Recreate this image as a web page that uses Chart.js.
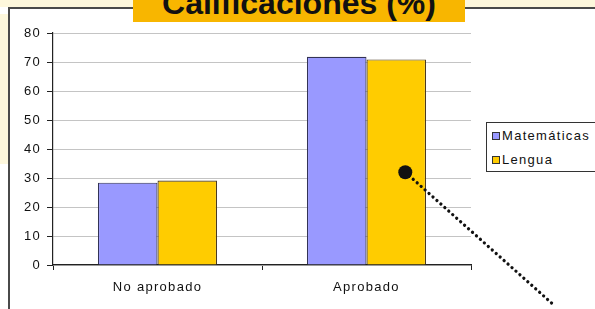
<!DOCTYPE html>
<html>
<head>
<meta charset="utf-8">
<script src="https://cdn.jsdelivr.net/npm/chart.js@4.4.1/dist/chart.umd.min.js"></script>
<style>
  html, body { margin:0; padding:0; width:595px; height:309px; overflow:hidden; background:#fff; }
  #wrap { position:relative; width:595px; height:309px; }
  #c { position:absolute; left:0; top:0; }
  .tint { position:absolute; background:#fdf7dc; }
  .bline { position:absolute; background:#4a4a4a; }
  #title { position:absolute; left:133px; top:0; width:332px; height:22px; background:#f8b600; overflow:hidden; }
  #title span { position:absolute; left:0; width:100%; top:-12.6px; text-align:center; font:bold 32px "Liberation Sans", Arial, sans-serif; line-height:32px; color:#111; }
  #legend { position:absolute; left:486px; top:122px; width:118px; height:50px; box-sizing:border-box; border:1px solid #333; background:#fff; font:13px "Liberation Sans", Arial, sans-serif; letter-spacing:1.3px; color:#111; }
  #legend .item { position:absolute; left:5px; height:14px; line-height:14px; white-space:nowrap; }
  #legend .sw { display:inline-block; width:6px; height:6px; border:1px solid #333; margin-right:2px; vertical-align:0px; }
</style>
</head>
<body>
<div id="wrap">
  <div class="tint" style="left:0;top:0;width:595px;height:7px;"></div>
  <div class="tint" style="left:0;top:14px;width:8px;height:150px;"></div>
  <canvas id="c" width="595" height="309"></canvas>
  <div class="bline" style="left:8px;top:7px;width:2px;height:302px;"></div>
  <div class="bline" style="left:8px;top:7px;width:587px;height:2px;"></div>
  <div id="title"><span id="titleText"></span></div>
  <div id="legend"></div>
</div>
<script>
const titleText = 'Calificaciones (%)';
const categories = ['No aprobado', 'Aprobado'];
const seriesNames = ['Matemáticas', 'Lengua'];
const matematicas = [28.4, 71.8];
const lengua = [29.1, 70.9];
const yTickValues = [0, 10, 20, 30, 40, 50, 60, 70, 80];

const fillColors = ['#9999ff', '#ffcc00'];
const edgeColors = ['#333355', '#4a3a20'];

document.getElementById('titleText').textContent = titleText;

const legendEl = document.getElementById('legend');
seriesNames.forEach((name, i) => {
  const d = document.createElement('div');
  d.className = 'item';
  d.style.top = (i === 0 ? 6 : 30) + 'px';
  const sw = document.createElement('span');
  sw.className = 'sw';
  sw.style.background = fillColors[i];
  d.appendChild(sw);
  d.appendChild(document.createTextNode(name));
  legendEl.appendChild(d);
});

const spacingPlugin = {
  id: 'spacing',
  beforeLayout(chart) { chart.ctx.letterSpacing = '1.3px'; },
  beforeDraw(chart) { chart.ctx.letterSpacing = '1.3px'; }
};

const pointerPlugin = {
  id: 'pointer',
  afterDraw(chart) {
    const ctx = chart.ctx;
    const meta = chart.getDatasetMeta(1);
    const bar = meta.data[1];
    const x0 = bar.x + 9, y0 = chart.scales.y.getPixelForValue(32);
    ctx.save();
    ctx.strokeStyle = '#111';
    ctx.lineWidth = 3.2;
    ctx.lineCap = 'round';
    ctx.setLineDash([0.1, 5.2]);
    ctx.beginPath();
    ctx.moveTo(x0, y0);
    ctx.lineTo(x0 + 150, y0 + 150 * 0.894);
    ctx.stroke();
    ctx.setLineDash([]);
    ctx.fillStyle = '#111';
    ctx.beginPath();
    ctx.arc(x0, y0, 7, 0, Math.PI * 2);
    ctx.fill();
    ctx.restore();
  }
};

new Chart(document.getElementById('c'), {
  type: 'bar',
  data: {
    labels: categories,
    datasets: [
      { label: seriesNames[0], data: matematicas, backgroundColor: fillColors[0], borderColor: edgeColors[0], borderWidth: 1.2, borderSkipped: 'bottom' },
      { label: seriesNames[1], data: lengua, backgroundColor: fillColors[1], borderColor: edgeColors[1], borderWidth: 1.2, borderSkipped: 'bottom' }
    ]
  },
  options: {
    responsive: false,
    animation: false,
    events: [],
    layout: { padding: { left: 0, right: 124, top: 33, bottom: 0 } },
    datasets: { bar: { categoryPercentage: 0.57, barPercentage: 1.0 } },
    plugins: { legend: { display: false }, tooltip: { enabled: false }, title: { display: false } },
    scales: {
      x: {
        offset: true,
        grid: { offset: true, drawOnChartArea: false, tickLength: 5, tickColor: '#222', tickWidth: 1 },
        border: { display: true, color: '#222', width: 1.2 },
        ticks: { color: '#111', font: { family: '"Liberation Sans", Arial, sans-serif', size: 13 }, padding: 10, maxRotation: 0 },
        afterFit(s) { s.height = 44; }
      },
      y: {
        min: 0, max: 80,
        afterBuildTicks(s) { s.ticks = yTickValues.map(v => ({ value: v })); },
        grid: { color: '#c4c4c4', lineWidth: 1, tickLength: 6, tickColor: '#222' },
        border: { display: true, color: '#222', width: 1.2 },
        ticks: { color: '#111', font: { family: '"Liberation Sans", Arial, sans-serif', size: 13 }, padding: 6 },
        afterFit(s) { s.width = 53; }
      }
    }
  },
  plugins: [spacingPlugin, pointerPlugin]
});
</script>
</body>
</html>
